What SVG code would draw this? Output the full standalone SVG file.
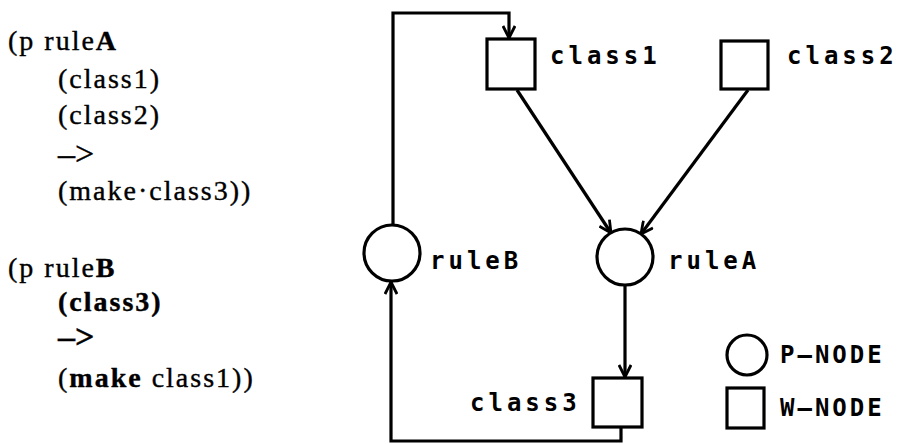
<svg xmlns="http://www.w3.org/2000/svg" width="899" height="444" viewBox="0 0 899 444">
<style>
.code{font-family:"Liberation Serif","Times New Roman",serif;font-size:28px;letter-spacing:2px;fill:#000;stroke:#000;stroke-width:0.4}
.arrowtxt{font-size:34px;letter-spacing:0}
.lbl{font-family:"DejaVu Sans Mono","Liberation Mono",monospace;font-weight:bold;font-size:24px;letter-spacing:4px;fill:#000}
.leg{letter-spacing:3px}
.shape{fill:#fff;stroke:#000;stroke-width:3.2}
.edge{fill:none;stroke:#000;stroke-width:3.2;stroke-linejoin:miter}
</style>
<defs>
<marker id="arr" viewBox="0 0 14 14" refX="13" refY="7" markerWidth="14" markerHeight="14" markerUnits="userSpaceOnUse" orient="auto">
<path d="M1,1 L13,7 L1,13" fill="none" stroke="#000" stroke-width="2.8"/>
</marker>
</defs>
<rect width="899" height="444" fill="#fff"/>
<g id="code" class="code">
<text x="8" y="50">(p rule<tspan font-weight="bold">A</tspan></text>
<text x="58" y="88">(class1)</text>
<text x="58" y="124">(class2)</text>
<text x="58" y="165" class="arrowtxt">–&gt;</text>
<text x="58" y="200">(make·class3))</text>
<text x="8" y="277">(p rule<tspan font-weight="bold">B</tspan></text>
<text x="58" y="311" font-weight="bold">(class3)</text>
<text x="58" y="348" class="arrowtxt" font-weight="bold">–&gt;</text>
<text x="58" y="387">(<tspan font-weight="bold">make</tspan> class1))</text>
</g>
<g id="connectors">
<path class="edge" d="M517,90 L611,233" marker-end="url(#arr)"/>
<path class="edge" d="M748,90 L641,234" marker-end="url(#arr)"/>
<path class="edge" d="M625,286 L625,377" marker-end="url(#arr)"/>
<path class="edge" d="M621,427 L621,441 L391,441 L391,282" marker-end="url(#arr)"/>
<path class="edge" d="M393,224 L393,13 L509,13 L509,38" marker-end="url(#arr)"/>
</g>
<g id="class1">
<rect class="shape" x="487" y="39" width="48" height="50"/>
<text class="lbl" x="550" y="64">class1</text>
</g>
<g id="class2">
<rect class="shape" x="721" y="41" width="47" height="48"/>
<text class="lbl" x="787" y="64">class2</text>
</g>
<g id="ruleB">
<circle class="shape" cx="392" cy="253" r="28"/>
<text class="lbl" x="430" y="269">ruleB</text>
</g>
<g id="ruleA">
<circle class="shape" cx="625" cy="257" r="28"/>
<text class="lbl" x="668" y="269">ruleA</text>
</g>
<g id="class3">
<rect class="shape" x="593" y="378" width="49" height="49"/>
<text class="lbl" x="470" y="411">class3</text>
</g>
<g id="legend">
<circle class="shape" cx="747" cy="355" r="20"/>
<text class="lbl leg" x="780" y="363">P—NODE</text>
<rect class="shape" x="727" y="388" width="37" height="40"/>
<text class="lbl leg" x="780" y="416">W—NODE</text>
</g>
</svg>
